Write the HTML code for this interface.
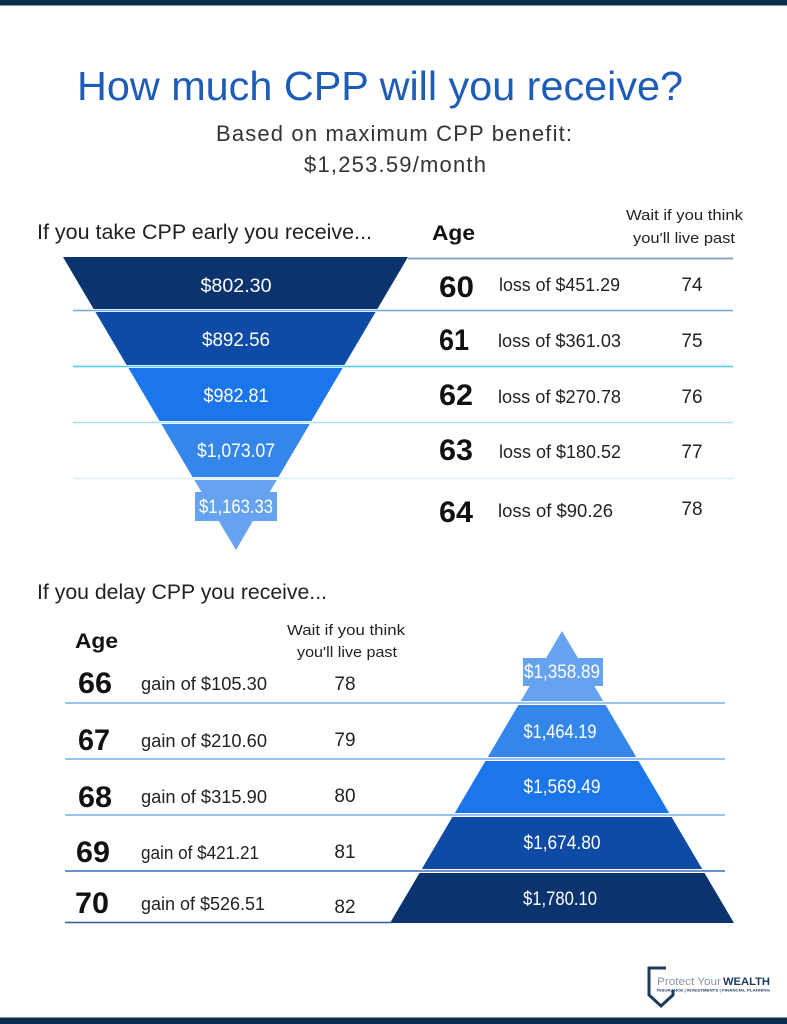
<!DOCTYPE html>
<html>
<head>
<meta charset="utf-8">
<style>
html,body{margin:0;padding:0;background:#fff;}
svg{display:block;}
text{font-family:"Liberation Sans",Arial,sans-serif;}
</style>
</head>
<body>
<svg width="787" height="1024" viewBox="0 0 787 1024" xmlns="http://www.w3.org/2000/svg">
<rect x="0" y="0" width="787" height="1024" fill="#ffffff"/>
<!-- top & bottom bars -->
<rect x="0" y="0" width="787" height="5" fill="#0a2d4e"/>
<rect x="0" y="5" width="787" height="1" fill="#7f97ad"/>
<rect x="0" y="1018" width="787" height="6" fill="#0a2d4e"/>
<rect x="0" y="1017" width="787" height="1" fill="#7f97ad"/>

<!-- Title -->
<text x="77" y="100" font-size="41" fill="#1d5cb8" textLength="606" lengthAdjust="spacingAndGlyphs">How much CPP will you receive?</text>
<text x="216" y="141" font-size="22" fill="#333" textLength="356" lengthAdjust="spacing">Based on maximum CPP benefit:</text>
<text x="304" y="172" font-size="22" fill="#333" textLength="182" lengthAdjust="spacing">$1,253.59/month</text>

<!-- Top section heading -->
<text x="37" y="239" font-size="21.5" fill="#222" textLength="335" lengthAdjust="spacingAndGlyphs">If you take CPP early you receive...</text>
<text x="432" y="240" font-size="21" font-weight="bold" fill="#111" textLength="43" lengthAdjust="spacingAndGlyphs">Age</text>
<text x="626" y="220" font-size="15" fill="#222" textLength="117" lengthAdjust="spacingAndGlyphs">Wait if you think</text>
<text x="633" y="243" font-size="15" fill="#222" textLength="102" lengthAdjust="spacingAndGlyphs">you'll live past</text>

<!-- Funnel (inverted) -->
<polygon points="63,257 408,257 377.4,309 93.6,309" fill="#0b346f"/>
<polygon points="95.4,312 375.6,312 344.4,365 126.6,365" fill="#0d4ba6"/>
<polygon points="128.4,368 342.6,368 311.4,421 159.6,421" fill="#1b75eb"/>
<polygon points="161.3,424 309.7,424 278.5,477 192.5,477" fill="#3586ea"/>
<polygon points="194.3,480 276.7,480 236,550" fill="#65a2ef"/>
<rect x="195" y="492" width="82" height="29" fill="#65a2ef"/>

<!-- Top lines -->
<line x1="408" y1="258.5" x2="733" y2="258.5" stroke="#8ea3bf" stroke-width="2"/>
<line x1="73" y1="310.5" x2="733" y2="310.5" stroke="#6eaaea" stroke-width="1.6"/>
<line x1="73" y1="366.5" x2="733" y2="366.5" stroke="#52c9ef" stroke-width="1.6"/>
<line x1="73" y1="422.5" x2="733" y2="422.5" stroke="#ace0f3" stroke-width="1.6"/>
<line x1="73" y1="478.5" x2="733" y2="478.5" stroke="#d5eff9" stroke-width="1.6"/>

<!-- Funnel labels -->
<g fill="#ffffff" font-size="19" text-anchor="middle">
<text x="236" y="292" textLength="71" lengthAdjust="spacingAndGlyphs">$802.30</text>
<text x="236" y="346" textLength="68" lengthAdjust="spacingAndGlyphs">$892.56</text>
<text x="236" y="402" textLength="65" lengthAdjust="spacingAndGlyphs">$982.81</text>
<text x="236" y="457" textLength="78" lengthAdjust="spacingAndGlyphs">$1,073.07</text>
<text x="236" y="513" textLength="74" lengthAdjust="spacingAndGlyphs">$1,163.33</text>
</g>

<!-- Top table rows -->
<g font-size="30" font-weight="bold" fill="#111">
<text x="439" y="297" textLength="35" lengthAdjust="spacingAndGlyphs">60</text>
<text x="439" y="350" textLength="30" lengthAdjust="spacingAndGlyphs">61</text>
<text x="439" y="405" textLength="34" lengthAdjust="spacingAndGlyphs">62</text>
<text x="439" y="460" textLength="34" lengthAdjust="spacingAndGlyphs">63</text>
<text x="439" y="522" textLength="34" lengthAdjust="spacingAndGlyphs">64</text>
</g>
<g font-size="18" fill="#222">
<text x="499" y="291" textLength="121" lengthAdjust="spacingAndGlyphs">loss of $451.29</text>
<text x="498" y="347" textLength="123" lengthAdjust="spacingAndGlyphs">loss of $361.03</text>
<text x="498" y="403" textLength="123" lengthAdjust="spacingAndGlyphs">loss of $270.78</text>
<text x="499" y="458" textLength="122" lengthAdjust="spacingAndGlyphs">loss of $180.52</text>
<text x="498" y="517" textLength="115" lengthAdjust="spacingAndGlyphs">loss of $90.26</text>
</g>
<g font-size="19" fill="#222" text-anchor="middle">
<text x="692" y="291">74</text>
<text x="692" y="347">75</text>
<text x="692" y="403">76</text>
<text x="692" y="458">77</text>
<text x="692" y="515">78</text>
</g>

<!-- Bottom section heading -->
<text x="37" y="599" font-size="21.5" fill="#222" textLength="290" lengthAdjust="spacingAndGlyphs">If you delay CPP you receive...</text>
<text x="75" y="648" font-size="21" font-weight="bold" fill="#111" textLength="43" lengthAdjust="spacingAndGlyphs">Age</text>
<text x="287" y="635" font-size="15" fill="#222" textLength="118" lengthAdjust="spacingAndGlyphs">Wait if you think</text>
<text x="297" y="657" font-size="15" fill="#222" textLength="100" lengthAdjust="spacingAndGlyphs">you'll live past</text>

<!-- Pyramid -->
<polygon points="562,631 603.2,701 520.8,701" fill="#65a2ef"/>
<rect x="523" y="658" width="80" height="28" fill="#65a2ef"/>
<polygon points="518.4,705 605.6,705 636.2,757 487.8,757" fill="#3586ea"/>
<polygon points="485.4,761 638.6,761 669.2,813 454.8,813" fill="#1b75eb"/>
<polygon points="452.4,817 671.6,817 702.2,869 421.8,869" fill="#0d4ba6"/>
<polygon points="419.5,873 704.5,873 734,923 390,923" fill="#0b346f"/>

<!-- Bottom lines -->
<line x1="65" y1="703" x2="725" y2="703" stroke="#78ade9" stroke-width="1.6"/>
<line x1="65" y1="759" x2="725" y2="759" stroke="#78ade9" stroke-width="1.6"/>
<line x1="65" y1="815" x2="725" y2="815" stroke="#78ade9" stroke-width="1.6"/>
<line x1="65" y1="871" x2="725" y2="871" stroke="#3d6fba" stroke-width="1.6"/>
<line x1="65" y1="922.5" x2="392" y2="922.5" stroke="#2b5b9f" stroke-width="1.6"/>

<!-- Pyramid labels -->
<g fill="#ffffff" font-size="19" text-anchor="middle">
<text x="562" y="678" textLength="76" lengthAdjust="spacingAndGlyphs">$1,358.89</text>
<text x="560" y="738" textLength="73" lengthAdjust="spacingAndGlyphs">$1,464.19</text>
<text x="562" y="793" textLength="77" lengthAdjust="spacingAndGlyphs">$1,569.49</text>
<text x="562" y="849" textLength="77" lengthAdjust="spacingAndGlyphs">$1,674.80</text>
<text x="560" y="905" textLength="74" lengthAdjust="spacingAndGlyphs">$1,780.10</text>
</g>

<!-- Bottom table rows -->
<g font-size="30" font-weight="bold" fill="#111">
<text x="78" y="693" textLength="34" lengthAdjust="spacingAndGlyphs">66</text>
<text x="78" y="750" textLength="32" lengthAdjust="spacingAndGlyphs">67</text>
<text x="78" y="807" textLength="34" lengthAdjust="spacingAndGlyphs">68</text>
<text x="76" y="862" textLength="34" lengthAdjust="spacingAndGlyphs">69</text>
<text x="75" y="913" textLength="34" lengthAdjust="spacingAndGlyphs">70</text>
</g>
<g font-size="18" fill="#222">
<text x="141" y="690" textLength="126" lengthAdjust="spacingAndGlyphs">gain of $105.30</text>
<text x="141" y="747" textLength="126" lengthAdjust="spacingAndGlyphs">gain of $210.60</text>
<text x="141" y="803" textLength="126" lengthAdjust="spacingAndGlyphs">gain of $315.90</text>
<text x="141" y="859" textLength="118" lengthAdjust="spacingAndGlyphs">gain of $421.21</text>
<text x="141" y="910" textLength="124" lengthAdjust="spacingAndGlyphs">gain of $526.51</text>
</g>
<g font-size="19" fill="#222" text-anchor="middle">
<text x="345" y="690">78</text>
<text x="345" y="746">79</text>
<text x="345" y="802">80</text>
<text x="345" y="858">81</text>
<text x="345" y="913">82</text>
</g>

<!-- Logo -->
<path d="M666,968 H649 V995 L661,1006 L673,995 V990" fill="none" stroke="#1c3a5e" stroke-width="3"/>
<text x="657" y="985" font-size="11" fill="#8a96a6" textLength="64" lengthAdjust="spacingAndGlyphs">Protect Your</text>
<text x="723" y="985" font-size="11" font-weight="bold" fill="#1c3a5e" textLength="47" lengthAdjust="spacingAndGlyphs">WEALTH</text>
<text x="657" y="991.5" font-size="4" font-weight="bold" fill="#1c3a5e" textLength="113" lengthAdjust="spacingAndGlyphs">INSURANCE | INVESTMENTS | FINANCIAL PLANNING</text>
</svg>
</body>
</html>
